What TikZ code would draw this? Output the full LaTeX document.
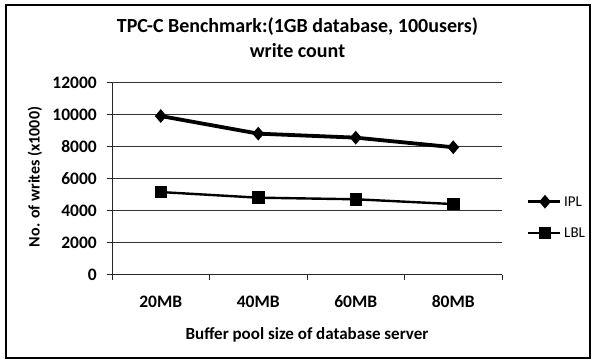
\documentclass[tikz,border=0pt]{standalone}
\usepackage{fontspec}
\setmainfont{Carlito}
\usetikzlibrary{shapes.geometric}
\tikzset{
  grid line/.style={draw=black!80, line width=0.9pt},
  axis line/.style={draw=black!85, line width=1pt},
  ticklab/.style={font=\bfseries\fontsize{17.5}{19}\selectfont, inner sep=0pt},
  axtitle/.style={font=\bfseries\fontsize{17}{19}\selectfont, inner sep=0pt},
  legtext/.style={font=\fontsize{15}{17}\selectfont, inner sep=0pt, anchor=west},
  ipl line/.style={draw=black, line width=3.8pt, line join=round},
  lbl line/.style={draw=black, line width=2.4pt, line join=round},
  iplmark/.style={diamond, fill=black, inner sep=0pt, minimum width=12pt, minimum height=14pt},
  lblmark/.style={rectangle, fill=black, inner sep=0pt, minimum size=12.5pt},
}
\begin{document}
\begin{tikzpicture}[x=1pt,y=-1pt]
\useasboundingbox (0,0) rectangle (595,362);
% outer frame
\draw[black, line width=1.2pt] (6,5) rectangle (590,358);
% title
\node[align=center, font=\bfseries\fontsize{20}{25}\selectfont, inner sep=0pt] (title) at (297.5,37.5)
  {TPC-C Benchmark:(1GB database, 100users)\\write count};
% gridlines and y ticks
\foreach \v/\lab in {0/0,2000/2000,4000/4000,6000/6000,8000/8000,10000/10000,12000/12000}{
  \pgfmathsetmacro{\yy}{274.5-0.016*\v}
  \draw[grid line] (112,\yy) -- (502,\yy);
  \draw[axis line] (106.5,\yy) -- (112,\yy);
  \node[ticklab, anchor=east] (yl\v) at (97,\yy) {\lab};
}
% axes
\draw[axis line] (112,82.5) -- (112,274.5);
\draw[axis line] (112,274.5) -- (502,274.5);
\foreach \xx in {112,209.5,307,404.5,502}{
  \draw[axis line] (\xx,274.5) -- (\xx,279.5);
}
% category labels
\node[ticklab] (c20) at (160.75,302) {20MB};
\node[ticklab] (c40) at (258.25,302) {40MB};
\node[ticklab] (c60) at (355.75,302) {60MB};
\node[ticklab] (c80) at (453.25,302) {80MB};
% axis titles
\node[axtitle] (xtitle) at (307,335) {Buffer pool size of database server};
\node[axtitle, rotate=90, font=\bfseries\fontsize{16}{18}\selectfont] (ytitle) at (35,177) {No. of writes (x1000)};
% data points
\coordinate (i1) at (160.75,{274.5-0.016*9900});
\coordinate (i2) at (258.25,{274.5-0.016*8800});
\coordinate (i3) at (355.75,{274.5-0.016*8550});
\coordinate (i4) at (453.25,{274.5-0.016*7950});
\coordinate (l1) at (160.75,{274.5-0.016*5150});
\coordinate (l2) at (258.25,{274.5-0.016*4800});
\coordinate (l3) at (355.75,{274.5-0.016*4700});
\coordinate (l4) at (453.25,{274.5-0.016*4400});
\draw[ipl line] (i1) -- (i2) -- (i3) -- (i4);
\draw[lbl line] (l1) -- (l2) -- (l3) -- (l4);
\foreach \p in {i1,i2,i3,i4}{ \node[iplmark] (m\p) at (\p) {}; }
\foreach \p in {l1,l2,l3,l4}{ \node[lblmark] (m\p) at (\p) {}; }
% legend
\coordinate (lgia) at (528,201.7);
\coordinate (lgib) at (560,201.7);
\coordinate (lgla) at (528,233);
\coordinate (lglb) at (560,233);
\draw[black, line width=2.6pt] (lgia) -- (lgib);
\draw[black, line width=2.3pt] (lgla) -- (lglb);
\node[iplmark] (lgim) at (545,201.7) {};
\node[lblmark] (lglm) at (545,233) {};
\node[legtext] (lgit) at (564,201.7) {IPL};
\node[legtext] (lglt) at (564,233) {LBL};
\end{tikzpicture}
\end{document}
